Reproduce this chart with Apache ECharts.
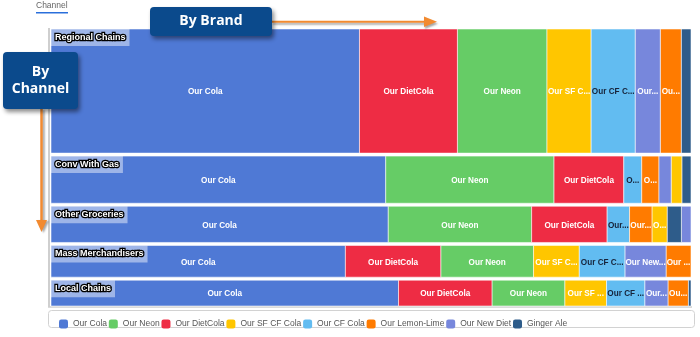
<!DOCTYPE html>
<html><head><meta charset="utf-8">
<script src="https://cdn.jsdelivr.net/npm/echarts@6/dist/echarts.min.js"></script>
<style>html,body{margin:0;padding:0;background:#fff}#c{width:700px;height:337px}</style>
</head><body><div id="c"></div>
<script>
// ---- data ----
const channels = ['Regional Chains', 'Conv With Gas', 'Other Groceries', 'Mass Merchandisers', 'Local Chains'];
const channelShare = [45.4, 17.9, 14.0, 12.4, 10.3];
const brands = ['Our Cola', 'Our Neon', 'Our DietCola', 'Our SF CF Cola', 'Our CF Cola', 'Our Lemon-Lime', 'Our New Diet', 'Ginger Ale'];
const brandColors = ['#4f79d5', '#66cc66', '#ee2c44', '#ffc600', '#62bcf1', '#ff7b00', '#7787dc', '#2e5c8a'];
// brand share (%) within each channel, in brand order
const regionalChains    = [48.2, 14.0, 15.3, 6.9, 6.9, 3.3, 3.9, 1.5];
const convWithGas       = [52.3, 26.3, 10.9, 1.7, 2.8, 2.7, 1.9, 1.4];
const otherGroceries    = [52.7, 22.4, 11.8, 2.4, 3.5, 3.5, 1.5, 2.2];
const massMerchandisers = [46.0, 14.5, 14.9, 7.15, 7.15, 3.9, 6.4, 0];
const localChains       = [54.3, 11.4, 14.6, 6.5, 6.0, 3.2, 3.6, 0.4];
const channelBrandValues = [regionalChains, convWithGas, otherGroceries, massMerchandisers, localChains];

// ---- layout (slice and dice, computed from data) ----
const totalShare = channelShare.reduce((a, b) => a + b, 0);
const rowStart = [];
channelShare.reduce((acc, v, i) => { rowStart[i] = acc; return acc + v; }, 0);
const cells = brands.map(() => []);
channelBrandValues.forEach((vals, ci) => {
  const sum = vals.reduce((a, b) => a + b, 0);
  const order = vals.map((v, i) => i).sort((a, b) => (vals[b] - vals[a]) || (a - b));
  let cum = 0;
  order.forEach(bi => {
    const x0 = cum / sum * 100;
    cum += vals[bi];
    const x1 = cum / sum * 100;
    cells[bi].push([x0, x1, rowStart[ci], rowStart[ci] + channelShare[ci], ci]);
  });
});

const ROW_GAP = 3;
const cellFont = 'bold 8.2px "Liberation Sans", Arial, sans-serif';
const headerFont = 'bold 9px "Liberation Sans", Arial, sans-serif';

function renderCell(bi) {
  return function (params, api) {
    const p0 = api.coord([api.value(0), api.value(2)]);
    const p1 = api.coord([api.value(1), api.value(3)]);
    const x = p0[0], y = p0[1], w = p1[0] - p0[0], h = p1[1] - p0[1] - ROW_GAP;
    if (w <= 0.2) return null;
    const children = [{
      type: 'rect',
      shape: { x: x, y: y, width: w, height: h },
      style: { fill: api.visual('color'), stroke: 'rgba(255,255,255,0.55)', lineWidth: 1 }
    }];
    if (w >= 15) {
      children.push({
        type: 'text',
        style: {
          text: brands[bi], x: x + w / 2, y: y + h / 2 + 1,
          align: 'center', verticalAlign: 'middle',
          width: w + 1, overflow: 'truncate', ellipsis: '...',
          fill: bi === 4 ? '#16233a' : '#ffffff', font: cellFont
        }
      });
    }
    return { type: 'group', children: children };
  };
}

const series = brands.map((name, bi) => ({
  type: 'custom', name: name,
  itemStyle: { color: brandColors[bi] },
  encode: { x: [0, 1], y: [2, 3] },
  data: cells[bi],
  renderItem: renderCell(bi),
  silent: true, z: 2
}));
series.push({
  type: 'custom', name: 'channelHeaders',
  data: channels.map((c, ci) => [0, rowStart[ci], ci]),
  encode: { x: 0, y: 1 },
  silent: true, z: 5,
  renderItem: function (params, api) {
    const p = api.coord([api.value(0), api.value(1)]);
    const label = channels[api.value(2)];
    return {
      type: 'group',
      children: [{
        type: 'text', z2: 1,
        style: {
          text: label, x: p[0], y: p[1],
          fill: '#000000', stroke: '#000000', lineWidth: 2.6, font: headerFont,
          backgroundColor: 'rgba(255,255,255,0.45)', padding: [4, 4, 4, 4]
        }
      }, {
        type: 'text', z2: 2,
        style: {
          text: label, x: p[0], y: p[1],
          fill: '#ffffff', font: headerFont, padding: [4, 4, 4, 4]
        }
      }]
    };
  }
});

const chart = echarts.init(document.getElementById('c'));
chart.setOption({
  animation: false,
  grid: { left: 51, right: 9, top: 29, height: 280 },
  xAxis: { type: 'value', min: 0, max: 100, show: false },
  yAxis: { type: 'value', min: 0, max: totalShare, inverse: true, show: false },
  legend: {
    data: brands, left: 54, top: 314.5, itemWidth: 9, itemHeight: 9, itemGap: 1.8,
    icon: 'roundRect',
    textStyle: { color: '#555', fontSize: 8.5, fontFamily: '"Liberation Sans", Arial, sans-serif' },
    selectedMode: false
  },
  graphic: [
    { type: 'text', left: 36, top: 1.5, style: { text: 'Channel', fill: '#666', font: '8.5px "Liberation Sans", Arial, sans-serif' } },
    { type: 'rect', shape: { x: 36, y: 12, width: 32, height: 1.5 }, style: { fill: '#2a6fdb' } },
    { type: 'rect', shape: { x: 48.5, y: 310.5, width: 646, height: 17, r: 3 }, style: { fill: '#fff', stroke: '#d2d2d2', lineWidth: 1 }, z: 0 },
    { type: 'line', shape: { x1: 49, y1: 28, x2: 49, y2: 307 }, style: { stroke: '#cfcfcf', lineWidth: 2 }, z: 1 },
    { type: 'line', shape: { x1: 48, y1: 307, x2: 692, y2: 307 }, style: { stroke: '#cfcfcf', lineWidth: 1.5 }, z: 1 },
    // By Brand annotation
    { type: 'line', shape: { x1: 272, y1: 21.7, x2: 426, y2: 21.7 }, style: { stroke: '#f28a30', lineWidth: 2, shadowBlur: 2, shadowOffsetX: 1, shadowOffsetY: 2, shadowColor: 'rgba(0,0,0,0.35)' }, z: 100 },
    { type: 'polygon', shape: { points: [[424, 16.5], [437, 21.7], [424, 27]] }, style: { fill: '#f28a30', shadowBlur: 2, shadowOffsetX: 1, shadowOffsetY: 2, shadowColor: 'rgba(0,0,0,0.35)' }, z: 100 },
    { type: 'rect', shape: { x: 150, y: 7, width: 122, height: 29, r: 4 }, style: { fill: '#0b4a8c', shadowBlur: 4, shadowOffsetX: 2, shadowOffsetY: 3, shadowColor: 'rgba(0,0,0,0.45)' }, z: 101 },
    { type: 'text', x: 211, y: 21.5, style: { text: 'By Brand', fill: '#fff', align: 'center', verticalAlign: 'middle', font: 'bold 14px "Open Sans", sans-serif' }, z: 102 },
    // By Channel annotation
    { type: 'line', shape: { x1: 41.5, y1: 109, x2: 41.5, y2: 222 }, style: { stroke: '#f28a30', lineWidth: 2.5, shadowBlur: 2, shadowOffsetX: 2, shadowOffsetY: 1, shadowColor: 'rgba(0,0,0,0.35)' }, z: 100 },
    { type: 'polygon', shape: { points: [[36, 220], [47, 220], [41.5, 232]] }, style: { fill: '#f28a30', shadowBlur: 2, shadowOffsetX: 2, shadowOffsetY: 1, shadowColor: 'rgba(0,0,0,0.35)' }, z: 100 },
    { type: 'rect', shape: { x: 3, y: 52, width: 75, height: 57, r: 4 }, style: { fill: '#0b4a8c', shadowBlur: 4, shadowOffsetX: 2, shadowOffsetY: 3, shadowColor: 'rgba(0,0,0,0.45)' }, z: 101 },
    { type: 'text', x: 40.5, y: 80.5, style: { text: 'By\nChannel', fill: '#fff', align: 'center', verticalAlign: 'middle', lineHeight: 17, font: 'bold 14px "Open Sans", sans-serif' }, z: 102 }
  ],
  series: series
});
</script>
</body></html>
